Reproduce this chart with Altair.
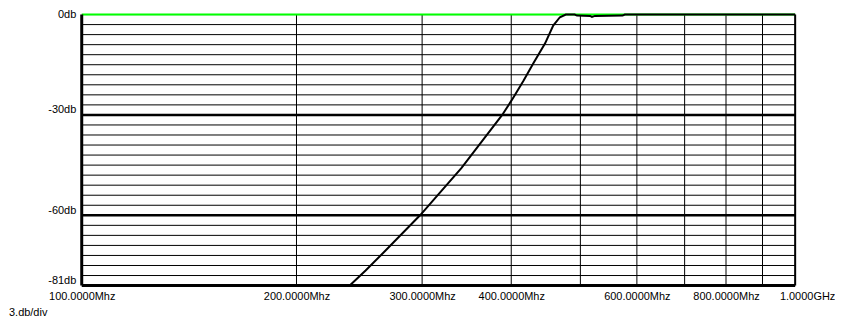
import altair as alt
import pandas as pd

# Response curve (frequency in MHz, level in dB)
curve_freq = [237.5, 250, 266.4, 298, 340.5, 388.5, 402, 416.3, 429.2, 446.2,
              458, 468, 477, 491, 494.5, 516, 519, 524, 573, 577, 1000]
curve_db = [-81, -76.5, -70.6, -60, -45.9, -30, -25.1, -19.7, -14.7, -8.6,
            -3.3, -0.8, 0, 0, -0.3, -0.4, -0.7, -0.4, -0.3, 0, 0]

# Reference (0 dB) trace
ref_freq = [100, 1000]
ref_db = [0, 0]

# Grid
v_grid = [200, 300, 400, 500, 600, 700, 800, 900]
h_grid_thin = [-3, -6, -9, -12, -15, -18, -21, -24, -27, -33, -36, -39, -42, -45,
               -48, -51, -54, -57, -63, -66, -69, -72, -75, -78]
h_grid_thick = [-30, -60]

x_ticks = [100, 200, 300, 400, 600, 800, 1000]
x_labels = ["100.0000Mhz", "200.0000Mhz", "300.0000Mhz", "400.0000Mhz",
            "600.0000Mhz", "800.0000Mhz", "1.0000GHz"]
y_ticks = [0, -30, -60, -81]
y_labels = ["0db", "-30db", "-60db", "-81db"]

FONT = "Liberation Sans"

label_map = "{" + ",".join(f"'{v}':'{t}'" for v, t in zip(x_ticks, x_labels)) + "}"
ylabel_map = "{" + ",".join(f"'{v}':'{t}'" for v, t in zip(y_ticks, y_labels)) + "}"

xscale = alt.Scale(type="log", domain=[100, 1000], nice=False)
yscale = alt.Scale(domain=[-81, 0], nice=False, zero=False)

xaxis = alt.Axis(values=x_ticks, labelExpr=f"{label_map}[''+datum.value]",
                 grid=False, ticks=False, domain=False, title=None,
                 labelFont=FONT, labelFontSize=11, labelColor="black",
                 labelPadding=5, labelFlush=False, labelOverlap=False,
                 labelOffset={"condition": {"test": "datum.value == 1000", "value": 12}, "value": 0})
yaxis = alt.Axis(values=y_ticks, labelExpr=f"{ylabel_map}[''+datum.value]",
                 grid=False, ticks=False, domain=False, title=None,
                 labelFont=FONT, labelFontSize=11, labelColor="black",
                 labelPadding=6, labelBaseline="bottom", labelFlush=False,
                 labelOverlap=False,
                 labelOffset={"condition": {"test": "datum.value == 0", "value": 5}, "value": 0})

curve_df = pd.DataFrame({"f": curve_freq, "db": curve_db})
ref_df = pd.DataFrame({"f": ref_freq, "db": ref_db})
vg_df = pd.DataFrame({"f": v_grid})
hthin_df = pd.DataFrame({"db": h_grid_thin})
hthick_df = pd.DataFrame({"db": h_grid_thick})
left_df = pd.DataFrame({"f": [100]})
right_df = pd.DataFrame({"f": [1000]})
bottom_df = pd.DataFrame({"db": [-81]})

base_axes = alt.Chart(curve_df).mark_point(opacity=0).encode(
    x=alt.X("f:Q", scale=xscale, axis=xaxis),
    y=alt.Y("db:Q", scale=yscale, axis=yaxis),
)

vgrid = alt.Chart(vg_df).mark_rule(color="black", strokeWidth=1).encode(
    x=alt.X("f:Q", scale=xscale))
hthin = alt.Chart(hthin_df).mark_rule(color="black", strokeWidth=1).encode(
    y=alt.Y("db:Q", scale=yscale))
hthick = alt.Chart(hthick_df).mark_rule(color="black", strokeWidth=2.5).encode(
    y=alt.Y("db:Q", scale=yscale))
left = alt.Chart(left_df).mark_rule(color="black", strokeWidth=3).encode(
    x=alt.X("f:Q", scale=xscale))
right = alt.Chart(right_df).mark_rule(color="black", strokeWidth=2).encode(
    x=alt.X("f:Q", scale=xscale))
bottom = alt.Chart(bottom_df).mark_rule(color="black", strokeWidth=3).encode(
    y=alt.Y("db:Q", scale=yscale))

ref_line = alt.Chart(ref_df).mark_line(color="#00ff00", strokeWidth=2).encode(
    x=alt.X("f:Q", scale=xscale), y=alt.Y("db:Q", scale=yscale))
curve_line = alt.Chart(curve_df).mark_line(color="black", strokeWidth=2).encode(
    x=alt.X("f:Q", scale=xscale), y=alt.Y("db:Q", scale=yscale))

note = alt.Chart(pd.DataFrame({"t": ["3.db/div"]})).mark_text(
    align="left", baseline="top", font=FONT, fontSize=11, color="black"
).encode(x=alt.value(-73), y=alt.value(294), text="t:N")

chart = alt.layer(
    base_axes, vgrid, hthin, hthick, ref_line, curve_line, left, right, bottom, note
).properties(
    width=716, height=272,
    autosize=alt.AutoSizeParams(type="none"),
    padding={"left": 74, "top": 6, "right": 40, "bottom": 36},
).configure_view(stroke=None).configure(background="white")

chart.save("out.html", embed_options={"renderer": "svg", "actions": False})
